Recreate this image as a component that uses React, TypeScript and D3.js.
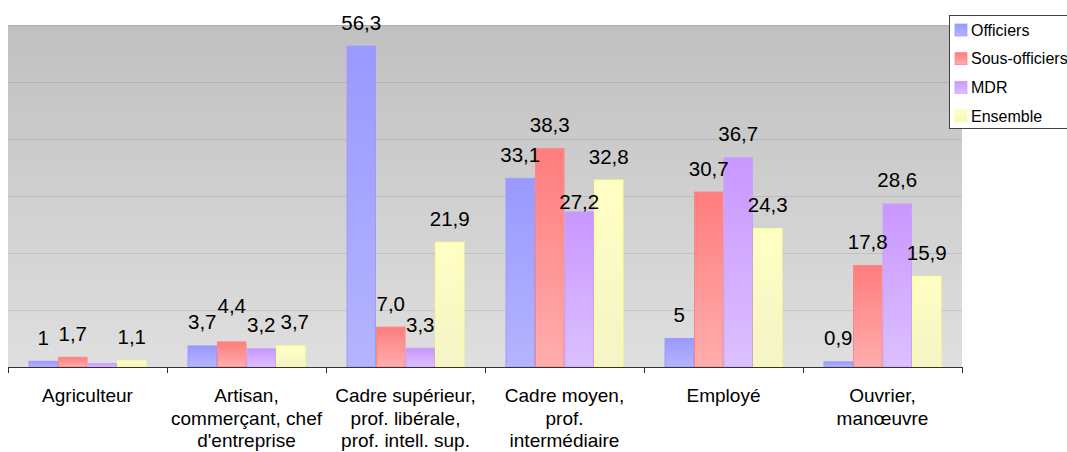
import React from "react";
import * as d3 from "d3";

// ---------- data ----------
const categoryLines: string[][] = [
  ["Agriculteur"],
  ["Artisan,", "commerçant, chef", "d'entreprise"],
  ["Cadre supérieur,", "prof. libérale,", "prof. intell. sup."],
  ["Cadre moyen,", "prof.", "intermédiaire"],
  ["Employé"],
  ["Ouvrier,", "manœuvre"],
];
const categories = categoryLines.map((l) => l.join(" "));
const seriesNames = ["Officiers", "Sous-officiers", "MDR", "Ensemble"];
const officiers = [1, 3.7, 56.3, 33.1, 5, 0.9];
const sousOfficiers = [1.7, 4.4, 7.0, 38.3, 30.7, 17.8];
const mdr = [0.6, 3.2, 3.3, 27.2, 36.7, 28.6];
const ensemble = [1.1, 3.7, 21.9, 32.8, 24.3, 15.9];
const officiersLabels = ["1", "3,7", "56,3", "33,1", "5", "0,9"];
const sousOfficiersLabels = ["1,7", "4,4", "7,0", "38,3", "30,7", "17,8"];
const mdrLabels = ["", "3,2", "3,3", "27,2", "36,7", "28,6"];
const ensembleLabels = ["1,1", "3,7", "21,9", "32,8", "24,3", "15,9"];
const yTicks = [0, 10, 20, 30, 40, 50, 60];

const seriesValues = [officiers, sousOfficiers, mdr, ensemble];
const seriesLabels = [officiersLabels, sousOfficiersLabels, mdrLabels, ensembleLabels];

// ---------- styles ----------
const W = 1067;
const H = 452;
const M = { left: 8, right: 962, top: 25, bottom: 367 };
const FONT = "'Liberation Sans', Arial, sans-serif";
const colors = [
  { top: "#9999ff", bottom: "#b4b4ff", stroke: "#9c9cff" },
  { top: "#ff7d7d", bottom: "#ffadad", stroke: "#ff8585" },
  { top: "#c997ff", bottom: "#dcc0ff", stroke: "#cc9eff" },
  { top: "#ffffc4", bottom: "#f4f4c6", stroke: "#ffff8a" },
];

let ctx: CanvasRenderingContext2D | null = null;
function textWidth(t: string, size: number): number {
  if (!ctx) {
    const c = document.createElement("canvas");
    ctx = c.getContext("2d");
  }
  if (ctx) {
    ctx.font = `${size}px 'Liberation Sans', Arial, sans-serif`;
    return ctx.measureText(t).width;
  }
  return t.length * size * 0.5;
}

type Box = { x0: number; x1: number; y0: number; y1: number };
const overlapW = (a: Box, b: Box) =>
  a.x0 < b.x1 && b.x0 < a.x1 && a.y0 < b.y1 && b.y0 < a.y1
    ? Math.min(a.x1, b.x1) - Math.max(a.x0, b.x0)
    : 0;

export default function App() {
  const x0 = d3.scaleBand<string>().domain(categories).range([M.left, M.right]).padding(0);
  const x1 = d3
    .scaleBand<string>()
    .domain(seriesNames)
    .range([0, x0.bandwidth()])
    .paddingInner(0)
    .paddingOuter(0.695);
  const y = d3.scaleLinear().domain([0, 60]).range([M.bottom, M.top]);

  const bars = categories.flatMap((c, i) =>
    seriesNames.map((s, j) => {
      const v = seriesValues[j][i];
      const bx = (x0(c) as number) + (x1(s) as number);
      return { i, j, v, label: seriesLabels[j][i], x: bx, w: x1.bandwidth(), top: y(v) };
    })
  );

  // label placement with simple collision avoidance (smallest values first)
  const LS = 20.5;
  const PAD = 5;
  const placed: Box[] = [];
  const order = bars
    .filter((b) => b.label !== "")
    .slice()
    .sort((a, b) => (a.i !== b.i ? a.i - b.i : a.v - b.v));
  const labels = order.map((b) => {
    const w = textWidth(b.label, LS);
    const cx0 = b.x + b.w / 2;
    const base0 = b.top - 16.5;
    const boxAt = (cx: number, base: number): Box => ({
      x0: cx - w / 2,
      x1: cx + w / 2,
      y0: base - LS * 0.72,
      y1: base + 1,
    });
    const barOk = (bx: Box) => {
      let barOv = 0;
      for (const o of bars) {
        if (o === b) continue;
        barOv += overlapW(bx, { x0: o.x, x1: o.x + o.w, y0: o.top, y1: M.bottom });
      }
      return barOv <= 6;
    };
    const labOk = (bx: Box) => {
      const padded = { x0: bx.x0 - PAD, x1: bx.x1 + PAD, y0: bx.y0, y1: bx.y1 };
      for (const p of placed) if (overlapW(padded, p) > 0) return false;
      return true;
    };
    const ok = (bx: Box) => barOk(bx) && labOk(bx);
    let best: { cx: number; base: number; score: number } | null = null;
    const def = boxAt(cx0, base0);
    if (ok(def)) best = { cx: cx0, base: base0, score: 0 };
    else {
      for (let dy = 0; dy >= -6; dy -= 1) {
        for (let dx = -20; dx <= 20; dx += 1) {
          const sc = Math.abs(dx) + 2 * Math.abs(dy);
          if (best && sc >= best.score) continue;
          if (ok(boxAt(cx0 + dx, base0 + dy))) best = { cx: cx0 + dx, base: base0 + dy, score: sc };
        }
      }
      if (!best) {
        if (!barOk(def)) {
          best = { cx: cx0, base: b.top - 3, score: 0 };
        } else {
          for (let dy = -7; dy >= -40; dy -= 1) {
            if (ok(boxAt(cx0, base0 + dy))) {
              best = { cx: cx0, base: base0 + dy, score: 0 };
              break;
            }
          }
        }
      }
    }
    if (!best) best = { cx: cx0, base: base0, score: 0 };
    placed.push(boxAt(best.cx, best.base));
    return { text: b.label, x: best.cx, y: best.base, key: `${b.i}-${b.j}` };
  });

  const legendRows = d3.scalePoint<string>().domain(seriesNames).range([30, 116]);

  return (
    <svg
      width={W}
      height={H}
      style={{ position: "absolute", left: 0, top: 0, fontFamily: FONT }}
    >
      <defs>
        <linearGradient id="bg" x1="0" y1="0" x2="0" y2="1">
          <stop offset="0" stopColor="#c0c0c0" />
          <stop offset="1" stopColor="#dfdfdf" />
        </linearGradient>
        {colors.map((c, j) => (
          <linearGradient key={j} id={`g${j}`} x1="0" y1="0" x2="0" y2="1">
            <stop offset="0" stopColor={c.top} />
            <stop offset="1" stopColor={c.bottom} />
          </linearGradient>
        ))}
      </defs>
      <rect width={W} height={H} fill="#ffffff" />
      <rect
        x={M.left}
        y={M.top}
        width={M.right - M.left}
        height={M.bottom - M.top}
        fill="url(#bg)"
      />
      {yTicks
        .filter((t) => t > 0)
        .map((t) => (
          <line
            key={t}
            x1={M.left}
            x2={M.right}
            y1={Math.round(y(t)) + 0.5}
            y2={Math.round(y(t)) + 0.5}
            stroke="rgba(0,0,0,0.09)"
          />
        ))}
      {bars.map((b) => (
        <rect
          key={`${b.i}-${b.j}`}
          x={b.x + 0.5}
          y={b.top}
          width={b.w - 1}
          height={M.bottom - b.top}
          fill={`url(#g${b.j})`}
          stroke={colors[b.j].stroke}
          strokeWidth={1}
        />
      ))}
      <line x1={M.left} x2={M.right} y1={M.bottom + 0.5} y2={M.bottom + 0.5} stroke="#333" />
      {[...categories.map((c) => x0(c) as number), M.right].map((xx, k) => (
        <line
          key={k}
          x1={Math.round(xx) + 0.5}
          x2={Math.round(xx) + 0.5}
          y1={M.bottom}
          y2={M.bottom + 6}
          stroke="#333"
        />
      ))}
      {categoryLines.map((lines, i) => (
        <text
          key={i}
          x={(x0(categories[i]) as number) + x0.bandwidth() / 2}
          y={402}
          textAnchor="middle"
          fontSize={19}
          fill="#000"
        >
          {lines.map((l, k) => (
            <tspan key={k} x={(x0(categories[i]) as number) + x0.bandwidth() / 2} dy={k === 0 ? 0 : 22.5}>
              {l}
            </tspan>
          ))}
        </text>
      ))}
      {labels.map((l) => (
        <text key={l.key} x={l.x} y={l.y} textAnchor="middle" fontSize={LS} fill="#000">
          {l.text}
        </text>
      ))}
      <g>
        <rect x={949.5} y={15.5} width={130} height={113} fill="#fff" stroke="#404040" />
        {seriesNames.map((s, j) => (
          <g key={s} transform={`translate(0,${legendRows(s)})`}>
            <rect x={955} y={-6} width={12} height={12} fill={`url(#g${j})`} stroke={colors[j].stroke} strokeWidth={0.8} />
            <text x={971} y={0} dy="0.35em" fontSize={16} fill="#000">
              {s}
            </text>
          </g>
        ))}
      </g>
    </svg>
  );
}
